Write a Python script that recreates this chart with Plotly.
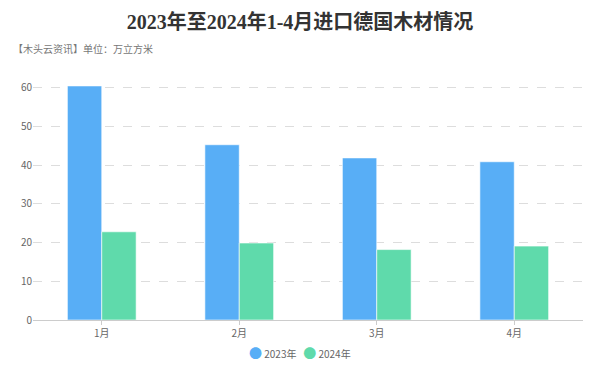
import plotly.graph_objects as go

months = ["1月", "2月", "3月", "4月"]
series_names = ["2023年", "2024年"]
v2023 = [60.5, 45.3, 41.9, 40.9]
v2024 = [22.8, 19.9, 18.2, 19.1]
colors = ["#58AEF6", "#5FDAAB"]

# page body has an 8px margin, so layout positions are offset by -8px
L, R, T, B = 25, 25, 76, 65
W, H = 600, 377
pw, ph = W - L - R, H - T - B

fig = go.Figure()
for name, vals, c in zip(series_names, [v2023, v2024], colors):
    fig.add_trace(go.Bar(x=months, y=vals, name=name,
                         marker=dict(color=c, line=dict(color="rgba(255,255,255,0.6)", width=1)),
                         showlegend=False))

legend_text = "   ".join(
    f"<span style='color:{c}; font-size:13px'>●</span> {n}" for n, c in zip(series_names, colors)
)

fig.update_layout(
    width=W, height=H,
    paper_bgcolor="white", plot_bgcolor="white",
    margin=dict(l=L, r=R, t=T, b=B, autoexpand=False),
    barmode="group", bargap=0.5, bargroupgap=0,
    showlegend=False,
    title=dict(text="<b>2023年至2024年1-4月进口德国木材情况</b>", x=(292) / W, xanchor="center",
               xref="container", yref="container", y=1 - 14 / H, yanchor="middle",
               font=dict(family="Liberation Serif, Noto Sans CJK SC", size=20, color="#333")),
    font=dict(family="Noto Sans CJK SC, Microsoft YaHei, sans-serif", size=10, color="#666"),
    xaxis=dict(showline=True, linecolor="#ccc", linewidth=1, ticks="outside", ticklen=4, tickcolor="#ccc",
               tickfont=dict(size=10, color="#666"), showgrid=False, automargin=False),
    yaxis=dict(range=[0, 61], dtick=10, showgrid=True, gridcolor="#ddd", griddash="dash", gridwidth=1,
               zeroline=False, showline=False, tickfont=dict(size=10, color="#666"), automargin=False),
    annotations=[
        dict(text="【木头云资讯】单位：万立方米", xref="paper", yref="paper",
             x=(3 - L) / pw, xanchor="left", y=(H - B - 41) / ph, yanchor="middle",
             showarrow=False, font=dict(size=10, color="#777")),
        dict(text=legend_text, xref="paper", yref="paper", x=(292 - L) / pw, xanchor="center",
             y=-(344 - (H - B)) / ph, yanchor="middle", showarrow=False, font=dict(size=10, color="#666")),
    ],
)
fig.write_html("out.html")
